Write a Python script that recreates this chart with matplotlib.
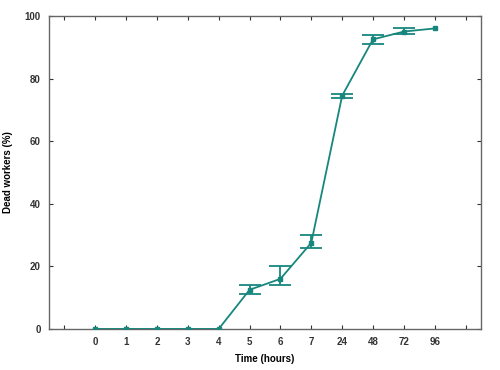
import matplotlib
matplotlib.use("Agg")
import matplotlib.pyplot as plt
import numpy as np

plt.rcParams['font.family'] = ['Liberation Sans', 'DejaVu Sans']

time_labels = ["0", "1", "2", "3", "4", "5", "6", "7", "24", "48", "72", "96"]
dead_mean = [0, 0, 0, 0, 0, 12.5, 16, 27.5, 74.5, 92.5, 95, 96]
err_low = [0, 0, 0, 0, 0, 1.5, 2, 1.5, 0.6, 1.5, 0.8, 0]
err_high = [0, 0, 0, 0, 0, 1.5, 4, 2.5, 0.6, 1.5, 1.2, 0]

color = "#17877d"
fig = plt.figure(figsize=(5, 3.7), dpi=100)
ax = fig.add_axes([0.098, 0.111, 0.864, 0.846])
x = np.arange(len(time_labels))
y = np.array(dead_mean, dtype=float)
lo = np.array(err_low, dtype=float)
hi = np.array(err_high, dtype=float)
ax.plot(x, y, color=color, marker="s", markersize=3.5, linewidth=1.3, zorder=3)
m = (lo > 0) | (hi > 0)
ax.errorbar(x[m], y[m], yerr=[lo[m], hi[m]], color=color, fmt="none",
            capsize=8, capthick=1.3, elinewidth=1.3, zorder=2)
ax.set_xlim(-1.5, 12.5)
ax.set_ylim(0, 100)
ax.set_xticks(list(range(-1, 13)))
ax.set_xticklabels([""] + time_labels + [""])
ax.set_yticks([0, 20, 40, 60, 80, 100])
ax.tick_params(direction="in", top=True, right=True, length=3, width=0.8,
               labelsize=7, colors="#333333", pad=6)
ax.tick_params(axis="y", labelright=False)
for lab in ax.get_xticklabels() + ax.get_yticklabels():
    lab.set_fontweight("bold")
for s in ax.spines.values():
    s.set_color("#666666")
    s.set_linewidth(1.0)
ax.set_xlabel("Time (hours)", fontsize=7, fontweight="bold", labelpad=5)
ax.set_ylabel("Dead workers (%)", fontsize=7, fontweight="bold", labelpad=8)
fig.savefig("out.png", dpi=100)
